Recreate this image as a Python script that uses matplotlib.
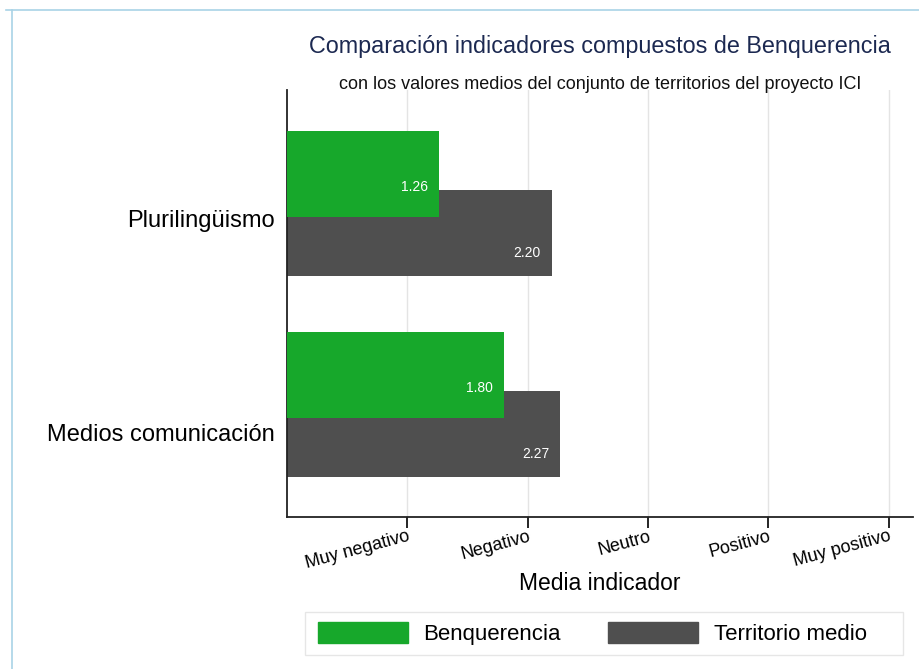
import numpy as np
import matplotlib.pyplot as plt
from matplotlib.patches import Patch, Rectangle
from matplotlib.lines import Line2D

plt.rcParams['font.family'] = ['Liberation Sans', 'DejaVu Sans']

categorias = ['Plurilingüismo', 'Medios comunicación']
benquerencia = [1.26, 1.80]
territorio = [2.20, 2.27]
ticks = [1, 2, 3, 4, 5]
tick_labels = ['Muy negativo', 'Negativo', 'Neutro', 'Positivo', 'Muy positivo']

verde = '#17a82b'
gris = '#4f4f4f'

fig = plt.figure(figsize=(9.2, 6.69), dpi=100)
ax = fig.add_axes([0.312, 0.2272, 0.68, 0.6383])

y = np.arange(len(categorias))
h = 0.428
off = 0.147
ax.barh(y - off, benquerencia, height=h, color=verde, zorder=3)
ax.barh(y + off, territorio, height=h, color=gris, zorder=2)

for i in range(len(categorias)):
    ax.text(benquerencia[i] - 0.09, y[i] - off + 0.065, f'{benquerencia[i]:.2f}',
            color='white', ha='right', va='center', fontsize=10, zorder=4)
    ax.text(territorio[i] - 0.09, y[i] + off + 0.1, f'{territorio[i]:.2f}',
            color='white', ha='right', va='center', fontsize=10, zorder=4)

ax.set_xlim(0, 5.2)
ax.set_ylim(1.56, -0.565)
ax.set_xticks(ticks)
ax.set_xticklabels(tick_labels, rotation=15, fontsize=13, ha='right',
                   rotation_mode='anchor')
ax.set_yticks(y + np.array([0.077, 0.137]))
ax.set_yticklabels(categorias, fontsize=17)
ax.tick_params(axis='y', length=0, pad=9)
ax.tick_params(axis='x', length=8, width=1.2, direction='out', pad=0)
ax.grid(axis='x', color='#e4e4e4', linewidth=1, zorder=0)
for s in ['top', 'right']:
    ax.spines[s].set_visible(False)
for s in ['left', 'bottom']:
    ax.spines[s].set_linewidth(1.3)
    ax.spines[s].set_color('#222222')
ax.set_xlabel('Media indicador', fontsize=16.5, labelpad=0)

fig.text(0.652, 0.93, 'Comparación indicadores compuestos de Benquerencia',
         ha='center', va='center', fontsize=16.8, color='#1c2951')
fig.text(0.652, 0.873, 'con los valores medios del conjunto de territorios del proyecto ICI',
         ha='center', va='center', fontsize=13, color='#111111')

# caja de la leyenda
fig.add_artist(Rectangle((305 / 920, 1 - 655 / 669), 598 / 920, 43 / 669,
                         transform=fig.transFigure, facecolor='white',
                         edgecolor='#e6e6e6', linewidth=1))
handles = [Patch(color=verde), Patch(color=gris)]
leg = fig.legend(handles, ['Benquerencia', 'Territorio medio'], loc='center left',
                 bbox_to_anchor=(318 / 920, 0.053), ncol=2, fontsize=16,
                 handlelength=4.05, handleheight=1.1, handletextpad=0.68,
                 columnspacing=2.15, frameon=False, borderpad=0,
                 borderaxespad=0)

# marco azul claro
fig.add_artist(Line2D([0.006, 1], [0.985, 0.985], color='#a9d3e6', linewidth=1.2))
fig.add_artist(Line2D([0.013, 0.013], [0, 0.985], color='#a9d3e6', linewidth=1.2))

fig.savefig('out.png', dpi=100)
